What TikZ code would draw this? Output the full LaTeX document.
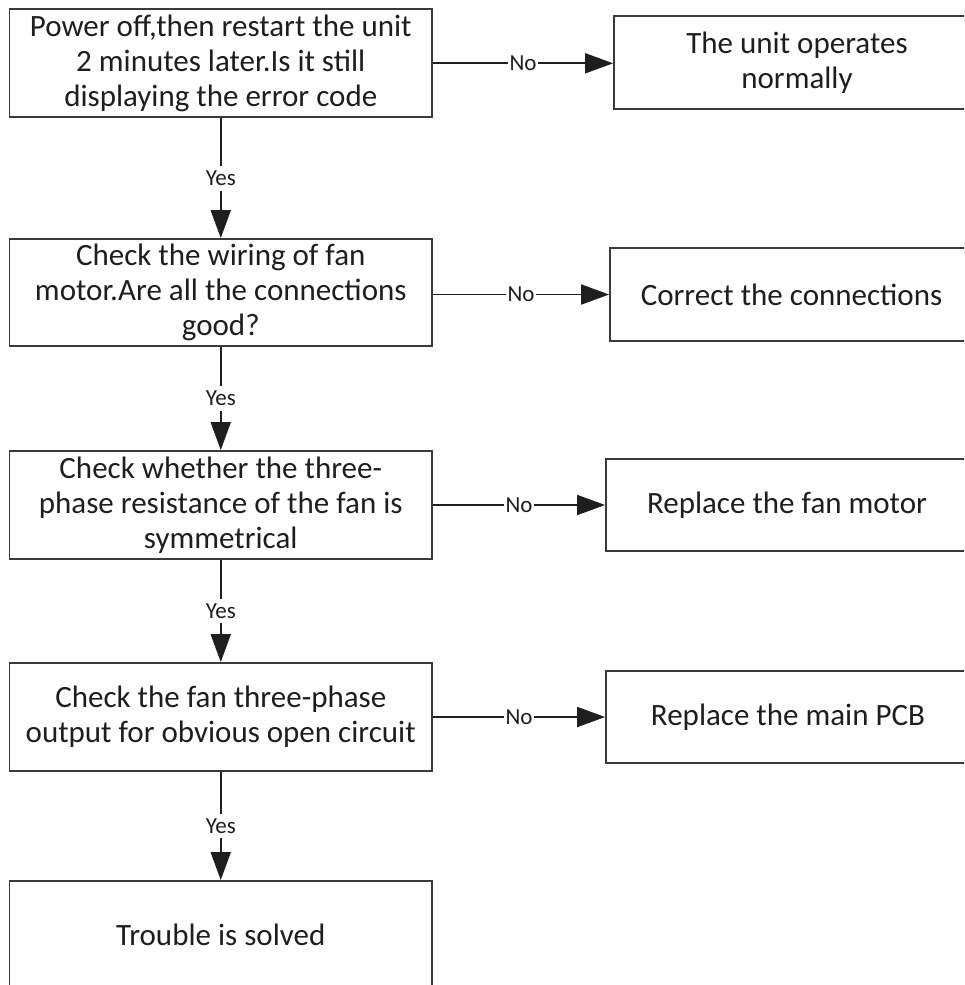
\documentclass[tikz,border=0pt]{standalone}
\usepackage{fontspec}
\setmainfont{Carlito}
\usetikzlibrary{arrows.meta}
\definecolor{boxline}{HTML}{3A3A3A}
\definecolor{txt}{HTML}{1E1E1E}
\tikzset{
  x=1pt, y=-1pt,
  stepbox/.style={draw=boxline, line width=1.8pt, fill=white, text=txt,
    font=\fontsize{31}{35}\selectfont, align=center, inner sep=0pt},
  conn/.style={draw=txt, line width=1.8pt, -{Triangle[length=28pt,width=20pt]}},
  lbl/.style={fill=white, text=txt, font=\fontsize{23}{26}\selectfont, inner sep=1.5pt},
  ylbl/.style={fill=white, text=txt, font=\fontsize{23}{26}\selectfont, inner xsep=1.5pt, inner ysep=5pt}
}
\begin{document}
\begin{tikzpicture}
\useasboundingbox (0,0) rectangle (964,985);
\clip (0,0) rectangle (964,985);
\fill[white] (0,0) rectangle (964,985);
% left column
\node[stepbox, minimum width=422.5pt, minimum height=108pt] (b1) at (220.75,63.3)
  {Power off,then restart the unit\\2 minutes later.Is it still\\displaying the error code};
\node[stepbox, minimum width=422.5pt, minimum height=107pt] (b2) at (220.75,292.5)
  {Check the wiring of fan\\motor.Are all the connections\\good?};
\node[stepbox, minimum width=422.5pt, minimum height=108pt] (b3) at (220.75,505)
  {Check whether the three-\\phase resistance of the fan is\\symmetrical};
\node[stepbox, minimum width=422.5pt, minimum height=108pt] (b4) at (220.75,717)
  {Check the fan three-phase\\output for obvious open circuit};
\node[stepbox, minimum width=422.5pt, minimum height=108pt] (b5) at (220.75,935)
  {Trouble is solved};
% right column
\node[stepbox, minimum width=366pt, minimum height=93pt] (r1) at (797,62.5)
  {The unit operates\\normally};
\node[stepbox, minimum width=363pt, minimum height=93pt] (r2) at (791.5,294.5)
  {Correct the connections};
\node[stepbox, minimum width=362pt, minimum height=92pt] (r3) at (787,505)
  {Replace the fan motor};
\node[stepbox, minimum width=364pt, minimum height=92pt] (r4) at (788,717)
  {Replace the main PCB};
% No connectors
\draw[conn] (b1.east) -- node[lbl]{No} (b1.east -| r1.west);
\draw[conn] (b2.east |- r2.west) -- node[lbl]{No} (r2.west);
\draw[conn] (b3.east) -- node[lbl]{No} (b3.east -| r3.west);
\draw[conn] (b4.east) -- node[lbl]{No} (b4.east -| r4.west);
% Yes connectors
\draw[conn] (b1.south) -- node[ylbl]{Yes} (b2.north);
\draw[conn] (b2.south) -- node[ylbl]{Yes} (b3.north);
\draw[conn] (b3.south) -- node[ylbl]{Yes} (b4.north);
\draw[conn] (b4.south) -- node[ylbl]{Yes} (b5.north);
\end{tikzpicture}
\end{document}
